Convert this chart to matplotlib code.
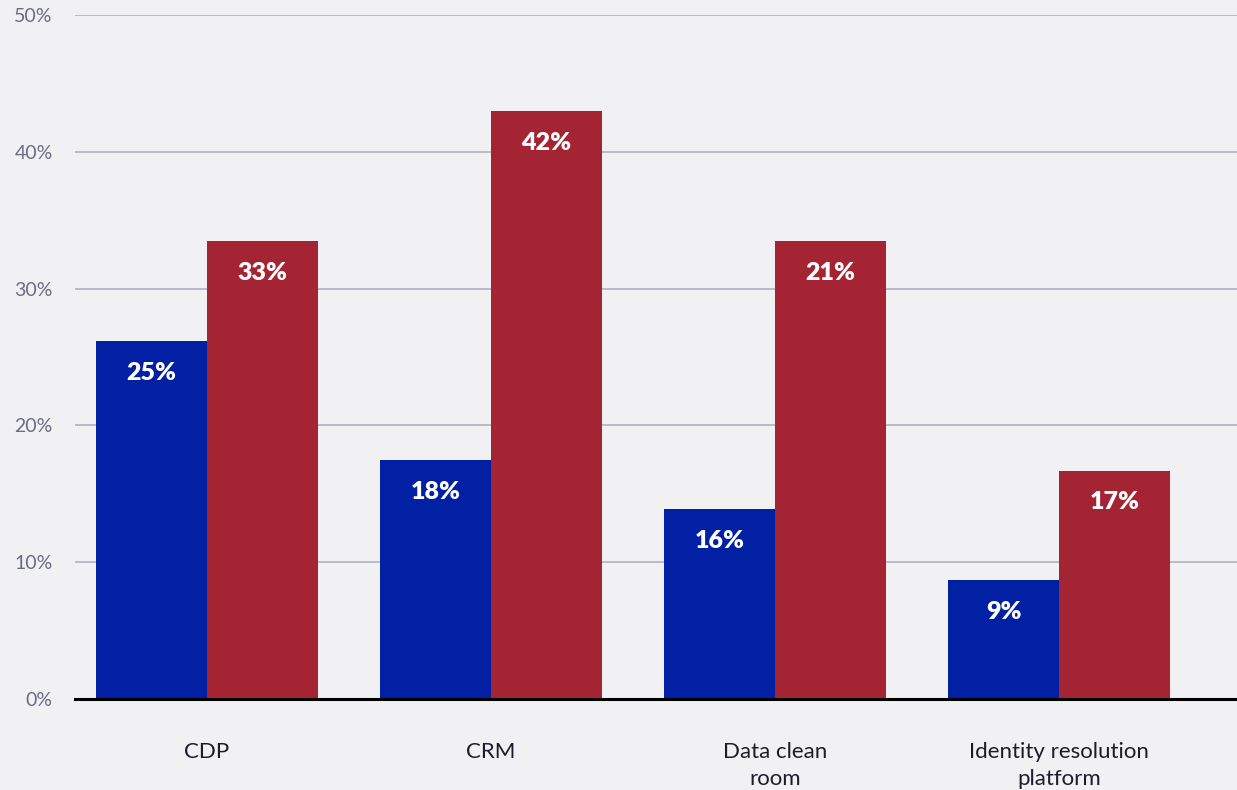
import numpy as np
import matplotlib.pyplot as plt

categories = ["CDP", "CRM", "Data clean\nroom", "Identity resolution\nplatform"]
# bar heights as drawn in the chart (percent)
blue_vals = [26.2, 17.5, 13.9, 8.7]
red_vals = [33.5, 43.0, 33.5, 16.7]
# printed labels on the bars
blue_labels = ["25%", "18%", "16%", "9%"]
red_labels = ["33%", "42%", "21%", "17%"]
yticks = [0, 10, 20, 30, 40, 50]

blue = "#0220a3"
red = "#a52433"
bg = "#f1f1f4"

plt.rcParams['font.family'] = ['Lato', 'DejaVu Sans']

fig = plt.figure(figsize=(12.37, 7.9), dpi=100, facecolor=bg)
ax = fig.add_axes([75/1237, 1 - 699/790, 1 - 75/1237, (699 - 15)/790])
ax.set_facecolor(bg)

x = np.arange(len(categories))
w = 0.39
b1 = ax.bar(x - w/2, blue_vals, w, color=blue, zorder=3)
b2 = ax.bar(x + w/2, red_vals, w, color=red, zorder=3)

for bars, labels in ((b1, blue_labels), (b2, red_labels)):
    for bar, lab in zip(bars, labels):
        ax.annotate(lab, (bar.get_x() + bar.get_width()/2, bar.get_height()),
                    xytext=(0, -23), textcoords="offset points",
                    ha="center", va="center", color="white",
                    fontsize=18, fontweight="heavy", zorder=4)

ax.set_ylim(0, 50)
ax.set_xlim(-0.465, 3.627)
ax.set_yticks(yticks)
ax.set_yticklabels([f"{t}%" for t in yticks], color="#6b6b85", fontsize=14)
ax.set_xticks(x)
ax.set_xticklabels(categories, fontsize=16, color="#1c1c2c", linespacing=1.45)
ax.tick_params(axis="y", length=0, pad=16)
ax.tick_params(axis="x", length=0, pad=31)
for lab in ax.get_yticklabels():
    lab.set_verticalalignment("center_baseline")

ax.grid(axis="y", color="#b9b9c8", linewidth=1.4, zorder=0)
for s in ["top", "right", "left"]:
    ax.spines[s].set_visible(False)
ax.spines["bottom"].set_color("black")
ax.spines["bottom"].set_linewidth(2.2)
ax.spines["bottom"].set_zorder(5)

fig.savefig("out.png", dpi=100, facecolor=bg)
